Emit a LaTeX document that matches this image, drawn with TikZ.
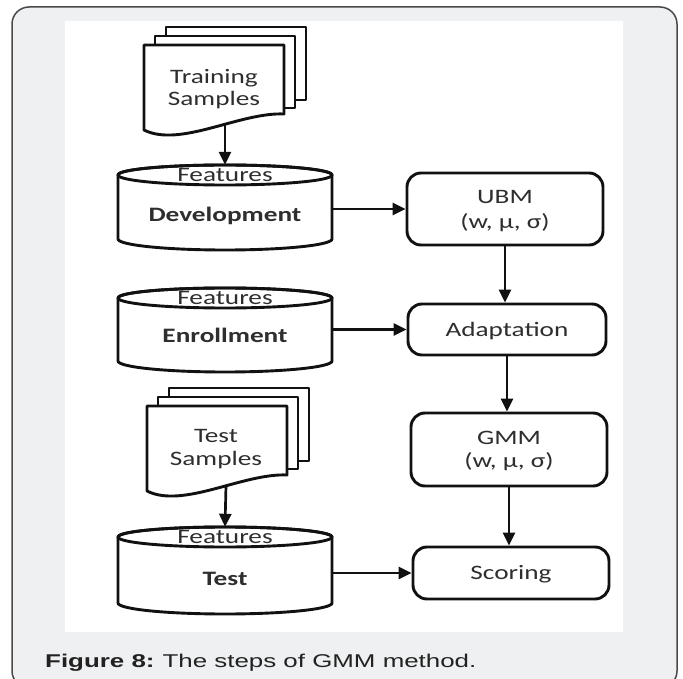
\documentclass[tikz,border=0pt]{standalone}
\usepackage{fontspec}
\usetikzlibrary{arrows.meta}
\newfontfamily\diagfont{Carlito}[FakeStretch=1.33]
\newfontfamily\capfont{Liberation Sans}[FakeStretch=1.4]
\definecolor{pagegray}{HTML}{EFF0F1}
\definecolor{framegray}{HTML}{4A4A4A}
\definecolor{ink}{HTML}{111111}
\definecolor{txt}{HTML}{2E2E2E}
\definecolor{capcol}{HTML}{222222}

\begin{document}
\begin{tikzpicture}[x=1pt,y=-1pt,
  shapeline/.style={draw=ink,line width=2.9pt,line join=round},
  arr/.style={draw=ink,line width=2.7pt,-{Triangle[length=13pt,width=12pt]}},
  lbl/.style={text=txt,font=\diagfont\fontsize{20.5}{21}\selectfont,inner sep=0pt,anchor=base},
  boldlbl/.style={lbl,font=\diagfont\bfseries\fontsize{20.5}{21}\selectfont},
  stepbox/.style={shapeline,rounded corners=14pt,fill=white,inner sep=0pt},
  holder/.style={inner sep=0pt,minimum width=214pt},
]
\useasboundingbox (0,0) rectangle (683,679);
\fill[white] (0,0) rectangle (683,679);

% outer card and white figure panel
\begin{scope}
\clip (0,0) rectangle (683,679);
\draw[framegray,line width=1.5pt,fill=pagegray,rounded corners=17pt] (12,7) rectangle (677,688);
\end{scope}
\fill[white] (65,21) rectangle (623,632);

% ---------- Training samples (stacked documents) ----------
\draw[shapeline,fill=white] (166,27) rectangle (306,100);
\draw[shapeline,fill=white] (155,36) rectangle (295,108);
\draw[shapeline,fill=white] (144,45) -- (284,45) -- (284,114)
  .. controls (240,112) and (180,148) .. (144,130) -- cycle;
\node[inner sep=0pt,minimum width=140pt,minimum height=85pt] (trn) at (214,87) {};
\node[lbl] (trn1) at (214,83.5) {Training};
\node[lbl] (trn2) at (214,105.5) {Samples};
\coordinate (trnout) at (225,124);

% ---------- Development database ----------
\path[shapeline,fill=white] (118,175) -- (118,239)
  arc[start angle=180,end angle=0,x radius=107,y radius=11] -- (332,175)
  arc[start angle=0,end angle=-180,x radius=107,y radius=10];
\draw[shapeline] (225,175) ellipse[x radius=107,y radius=10];
\node[holder,minimum height=85pt] (dev) at (225,207.5) {};
\node[lbl] (devfeat) at (225,181.5) {Features};
\node[boldlbl] (devlbl) at (225,221.5) {Development};

% ---------- Enrollment database ----------
\path[shapeline,fill=white] (118,298) -- (118,361)
  arc[start angle=180,end angle=0,x radius=107,y radius=11] -- (332,298)
  arc[start angle=0,end angle=-180,x radius=107,y radius=10];
\draw[shapeline] (225,298) ellipse[x radius=107,y radius=10];
\node[holder,minimum height=84pt] (enr) at (225,330) {};
\node[lbl] (enrfeat) at (225,304.5) {Features};
\node[boldlbl] (enrlbl) at (225,342.5) {Enrollment};

% ---------- Test samples (stacked documents) ----------
\draw[shapeline,fill=white] (169,388) rectangle (309,461);
\draw[shapeline,fill=white] (158,397) rectangle (298,469);
\draw[shapeline,fill=white] (147,406) -- (287,406) -- (287,475)
  .. controls (243,473) and (183,509) .. (147,491) -- cycle;
\node[inner sep=0pt,minimum width=140pt,minimum height=85pt] (tsm) at (217,448) {};
\node[lbl] (tsm1) at (216,442.5) {Test};
\node[lbl] (tsm2) at (216,465) {Samples};
\coordinate (tsmout) at (226,485);

% ---------- Test database ----------
\path[shapeline,fill=white] (118,537) -- (118,603)
  arc[start angle=180,end angle=0,x radius=107,y radius=11] -- (332,537)
  arc[start angle=0,end angle=-180,x radius=107,y radius=10];
\draw[shapeline] (225,537) ellipse[x radius=107,y radius=10];
\node[holder,minimum height=87pt] (tst) at (225,570.5) {};
\node[lbl] (tstfeat) at (225,543.5) {Features};
\node[boldlbl] (tstlbl) at (225,585.5) {Test};

% ---------- model pipeline ----------
\node[stepbox,minimum width=196pt,minimum height=72pt] (ubm) at (505,209) {};
\node[lbl] (ubm1) at (505,203.3) {UBM};
\node[lbl] (ubm2) at (505,229) {(w, μ, σ)};

\node[stepbox,minimum width=198pt,minimum height=51pt] (adapt) at (507,329.5) {};
\node[lbl] (adapt1) at (507,336.5) {Adaptation};

\node[stepbox,minimum width=196pt,minimum height=73pt] (gmm) at (509,449.5) {};
\node[lbl] (gmm1) at (509,444) {GMM};
\node[lbl] (gmm2) at (509,467.5) {(w, μ, σ)};

\node[stepbox,minimum width=196pt,minimum height=52pt] (scor) at (511,573) {};
\node[lbl] (scor1) at (511,579) {Scoring};

% ---------- connectors ----------
\draw[arr] (trnout) -- (dev.north);
\draw[arr] (tsmout) -- (tst.north);
\draw[arr] (ubm.west -| dev.east) -- (ubm.west);
\draw[arr] (adapt.west -| enr.east) -- (adapt.west);
\draw[arr] (scor.west -| tst.east) -- (scor.west);
\draw[arr] (ubm.south) -- (ubm.south |- adapt.north);
\draw[arr] (adapt.south) -- (adapt.south |- gmm.north);
\draw[arr] (gmm.south) -- (gmm.south |- scor.north);

% ---------- caption ----------
\node[anchor=base west,inner sep=0pt,text=capcol,font=\capfont\fontsize{18.5}{18.5}\selectfont] (cap) at (45,667)
  {\textbf{Figure 8:}\hspace{8pt}The steps of GMM method.};
\end{tikzpicture}
\end{document}
